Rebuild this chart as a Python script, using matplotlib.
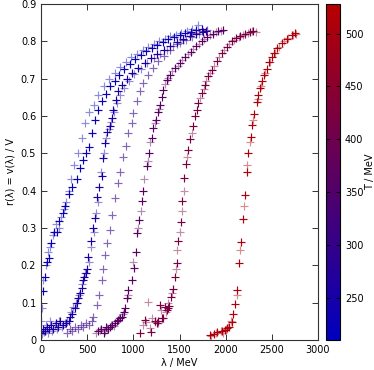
#Recreate the r(lambda) scatter plot, coloured by temperature
import numpy as np
import matplotlib
matplotlib.use('Agg')
import matplotlib.pyplot as plt
from matplotlib.colors import LinearSegmentedColormap, Normalize
from matplotlib.cm import ScalarMappable

#temperatures (MeV) of each data set
T_values = [215, 228, 255, 255, 300, 365, 365, 420, 420, 510, 510]
alphas = [0.45, 1.0, 1.0, 0.45, 0.6, 1.0, 0.45, 1.0, 0.45, 1.0, 0.45]

lam_1 = [0, 14, 27, 50, 75, 100, 130, 160, 190, 215, 245, 275, 300, 330, 360, 400, 440, 480,
         520, 570, 620, 680, 740, 800, 860, 920, 980, 1040, 1100, 1160, 1220, 1280, 1340,
         1400, 1460, 1520, 1580, 1640, 1700]
r_1 = [0.05, 0.086, 0.16, 0.20, 0.235, 0.25, 0.28, 0.31, 0.30, 0.33, 0.35, 0.37, 0.40, 0.43,
       0.47, 0.50, 0.54, 0.58, 0.61, 0.63, 0.655, 0.68, 0.70, 0.715, 0.73, 0.745, 0.757, 0.767,
       0.777, 0.786, 0.794, 0.80, 0.807, 0.813, 0.818, 0.823, 0.827, 0.832, 0.845]

lam_2 = [22, 40, 60, 85, 110, 140, 170, 200, 235, 265, 300, 340, 386, 420, 459, 490, 523, 555,
         585, 621, 660, 700, 750, 800, 850, 900, 960, 1020, 1080, 1140, 1200, 1260, 1320, 1380,
         1440, 1500, 1560, 1620, 1680, 1740]
r_2 = [0.13, 0.17, 0.21, 0.22, 0.26, 0.29, 0.29, 0.32, 0.34, 0.36, 0.39, 0.41, 0.43, 0.46,
       0.483, 0.50, 0.518, 0.555, 0.59, 0.617, 0.64, 0.66, 0.68, 0.695, 0.71, 0.725, 0.74,
       0.752, 0.763, 0.773, 0.782, 0.79, 0.798, 0.805, 0.811, 0.816, 0.821, 0.826, 0.83, 0.834]

lam_3 = [0, 20, 40, 60, 85, 110, 135, 160, 185, 210, 240, 270, 300, 314, 340, 368, 390, 404,
         422, 440, 459, 470, 490, 502, 513, 538, 567, 585, 603, 632, 657, 667, 693, 720, 747,
         765, 783, 812, 837, 874, 928, 982, 1054, 1126, 1190, 1260, 1330, 1400, 1470, 1540,
         1610, 1680, 1750, 1790]
r_3 = [0.02, 0.03, 0.025, 0.035, 0.03, 0.04, 0.03, 0.045, 0.035, 0.05, 0.04, 0.045, 0.05,
       0.062, 0.07, 0.085, 0.10, 0.112, 0.125, 0.14, 0.161, 0.17, 0.18, 0.19, 0.223, 0.265,
       0.301, 0.328, 0.383, 0.411, 0.438, 0.487, 0.527, 0.556, 0.572, 0.594, 0.617, 0.643,
       0.666, 0.684, 0.70, 0.715, 0.728, 0.742, 0.755, 0.767, 0.778, 0.788, 0.797, 0.806,
       0.814, 0.82, 0.826, 0.829]

lam_3b = [10, 30, 50, 75, 95, 120, 150, 175, 200, 225, 255, 285, 330, 350, 380, 410, 440, 480,
          520, 545, 575, 595, 615, 645, 680, 705, 735, 760, 790, 825, 860, 900, 950, 1010,
          1080, 1150, 1220, 1290, 1360, 1430, 1500, 1570, 1640, 1710]
r_3b = [0.015, 0.022, 0.04, 0.02, 0.05, 0.025, 0.04, 0.03, 0.05, 0.035, 0.045, 0.05, 0.075,
        0.089, 0.10, 0.12, 0.15, 0.18, 0.21, 0.25, 0.29, 0.34, 0.37, 0.45, 0.50, 0.54, 0.565,
        0.585, 0.61, 0.635, 0.655, 0.675, 0.695, 0.712, 0.727, 0.742, 0.755, 0.766, 0.777,
        0.787, 0.796, 0.804, 0.812, 0.819]

lam_4 = [280, 310, 340, 370, 400, 430, 460, 490, 520, 550, 567, 603, 630, 657, 675, 693, 720,
         747, 765, 801, 830, 856, 892, 920, 946, 982, 1000, 1036, 1072, 1108, 1162, 1216, 1270,
         1330, 1400, 1470, 1540, 1610, 1680, 1740, 1794]
r_4 = [0.02, 0.03, 0.025, 0.035, 0.03, 0.04, 0.035, 0.045, 0.04, 0.05, 0.062, 0.094, 0.12,
       0.16, 0.19, 0.228, 0.26, 0.295, 0.335, 0.38, 0.42, 0.451, 0.491, 0.52, 0.554, 0.581,
       0.608, 0.639, 0.666, 0.688, 0.71, 0.728, 0.746, 0.761, 0.777, 0.792, 0.804, 0.815,
       0.823, 0.828, 0.831]

lam_5 = [620, 650, 680, 700, 730, 747, 770, 801, 820, 837, 860, 874, 895, 910, 928, 946, 982,
         1010, 1029, 1036, 1061, 1090, 1108, 1144, 1173, 1199, 1216, 1245, 1264, 1289, 1307,
         1325, 1361, 1397, 1451, 1505, 1560, 1620, 1680, 1740, 1800, 1860, 1920, 1970]
r_5 = [0.025, 0.03, 0.02, 0.035, 0.03, 0.036, 0.04, 0.045, 0.05, 0.054, 0.058, 0.062, 0.075,
       0.085, 0.112, 0.134, 0.161, 0.192, 0.237, 0.286, 0.322, 0.371, 0.398, 0.465, 0.50,
       0.54, 0.567, 0.59, 0.612, 0.63, 0.651, 0.67, 0.697, 0.71, 0.728, 0.742, 0.757, 0.772,
       0.787, 0.80, 0.811, 0.82, 0.827, 0.831]

lam_5b = [600, 640, 690, 720, 760, 790, 850, 885, 937, 1000, 1050, 1080, 1120, 1160, 1185,
          1230, 1280, 1340, 1380, 1420, 1480, 1530, 1590, 1650, 1710, 1770, 1830, 1890, 1950]
r_5b = [0.02, 0.028, 0.025, 0.032, 0.04, 0.038, 0.06, 0.07, 0.12, 0.21, 0.30, 0.345, 0.43,
        0.48, 0.53, 0.58, 0.62, 0.685, 0.703, 0.72, 0.735, 0.75, 0.765, 0.78, 0.794, 0.806,
        0.816, 0.824, 0.829]

lam_6 = [1072, 1126, 1191, 1230, 1253, 1270, 1290, 1307, 1325, 1340, 1361, 1375, 1390, 1408,
         1433, 1451, 1469, 1487, 1513, 1531, 1553, 1570, 1596, 1614, 1643, 1668, 1686, 1704,
         1740, 1776, 1812, 1848, 1902, 1957, 2011, 2065, 2110, 2160, 2209, 2264, 2300]
r_6 = [0.018, 0.054, 0.022, 0.05, 0.045, 0.052, 0.095, 0.06, 0.058, 0.088, 0.08, 0.085, 0.091,
       0.116, 0.136, 0.17, 0.207, 0.266, 0.317, 0.373, 0.433, 0.472, 0.509, 0.539, 0.572,
       0.599, 0.617, 0.636, 0.661, 0.684, 0.706, 0.724, 0.746, 0.769, 0.786, 0.80, 0.808,
       0.815, 0.82, 0.826, 0.828]

lam_6b = [1110, 1140, 1162, 1180, 1205, 1240, 1262, 1300, 1350, 1380, 1420, 1460, 1478, 1500,
          1523, 1545, 1580, 1630, 1720, 1760, 1790, 1830, 1875, 1930, 1985, 2040, 2090, 2140,
          2185, 2240, 2290, 2330]
r_6b = [0.04, 0.048, 0.103, 0.032, 0.06, 0.048, 0.045, 0.08, 0.075, 0.10, 0.125, 0.19, 0.24,
        0.29, 0.345, 0.40, 0.49, 0.555, 0.648, 0.672, 0.695, 0.715, 0.735, 0.757, 0.777,
        0.793, 0.803, 0.812, 0.818, 0.823, 0.827, 0.826]

lam_7 = [1830, 1877, 1910, 1960, 1990, 2018, 2040, 2065, 2083, 2101, 2126, 2148, 2166, 2184,
         2209, 2228, 2245, 2271, 2289, 2311, 2336, 2354, 2372, 2397, 2415, 2444, 2469, 2498,
         2523, 2559, 2607, 2661, 2715, 2751]
r_7 = [0.013, 0.015, 0.022, 0.025, 0.028, 0.031, 0.036, 0.047, 0.07, 0.097, 0.134, 0.206,
       0.262, 0.323, 0.389, 0.449, 0.502, 0.545, 0.576, 0.606, 0.637, 0.657, 0.675, 0.694,
       0.71, 0.726, 0.744, 0.758, 0.769, 0.782, 0.795, 0.807, 0.818, 0.822]

lam_7b = [1840, 1900, 1945, 1975, 2000, 2025, 2060, 2118, 2155, 2200, 2236, 2262, 2300, 2345,
          2385, 2430, 2480, 2530, 2580, 2630, 2680, 2730, 2760]
r_7b = [0.012, 0.02, 0.025, 0.018, 0.03, 0.035, 0.052, 0.12, 0.24, 0.36, 0.47, 0.53, 0.59,
        0.645, 0.68, 0.715, 0.745, 0.768, 0.785, 0.80, 0.81, 0.818, 0.82]

lam_sets = [lam_1, lam_2, lam_3, lam_3b, lam_4, lam_5, lam_5b, lam_6, lam_6b, lam_7, lam_7b]
r_sets = [r_1, r_2, r_3, r_3b, r_4, r_5, r_5b, r_6, r_6b, r_7, r_7b]

#blue to red palette, gnuplot style
cmap = LinearSegmentedColormap.from_list('bluered', [(0.0, 0.0, 0.75), (0.72, 0.0, 0.0)])
norm = Normalize(vmin=210, vmax=528)

plt.rcParams['font.family'] = 'DejaVu Sans'
fig = plt.figure(figsize=(3.74, 3.70), dpi=100)
ax = fig.add_axes([41/374, 30/370, 277/374, 336/370])

for lam, r, T, a in zip(lam_sets, r_sets, T_values, alphas):
    ax.plot(lam, r, linestyle='none', marker='+', markersize=5.5, markeredgewidth=0.85,
            color=cmap(norm(T)), alpha=a)

#axes
ax.set_xlim(0, 3000)
ax.set_ylim(0, 0.9)
ax.set_xticks(np.arange(0, 3001, 500))
ax.set_yticks(np.arange(0, 0.91, 0.1))
ax.set_yticklabels(['0', '0.1', '0.2', '0.3', '0.4', '0.5', '0.6', '0.7', '0.8', '0.9'])
ax.tick_params(direction='in', top=True, right=True, length=4, width=0.7, labelsize=7,
               colors='#333333', labelcolor='black')
for s in ax.spines.values():
    s.set_linewidth(0.8)
    s.set_color('#333333')
ax.set_xlabel('λ / MeV', fontsize=7, labelpad=2)
ax.set_ylabel('r(λ) = v(λ) / V', fontsize=7, labelpad=4)

#colour bar
cax = fig.add_axes([326/374, 30/370, 14/374, 336/370])
cb = fig.colorbar(ScalarMappable(norm=norm, cmap=cmap), cax=cax)
cb.set_ticks([250, 300, 350, 400, 450, 500])
cax.tick_params(direction='in', left=True, right=True, length=3, width=0.7, labelsize=7)
cb.outline.set_linewidth(0.8)
cb.set_label('T / MeV', fontsize=7, labelpad=1)

plt.savefig('out.png', dpi=100)
